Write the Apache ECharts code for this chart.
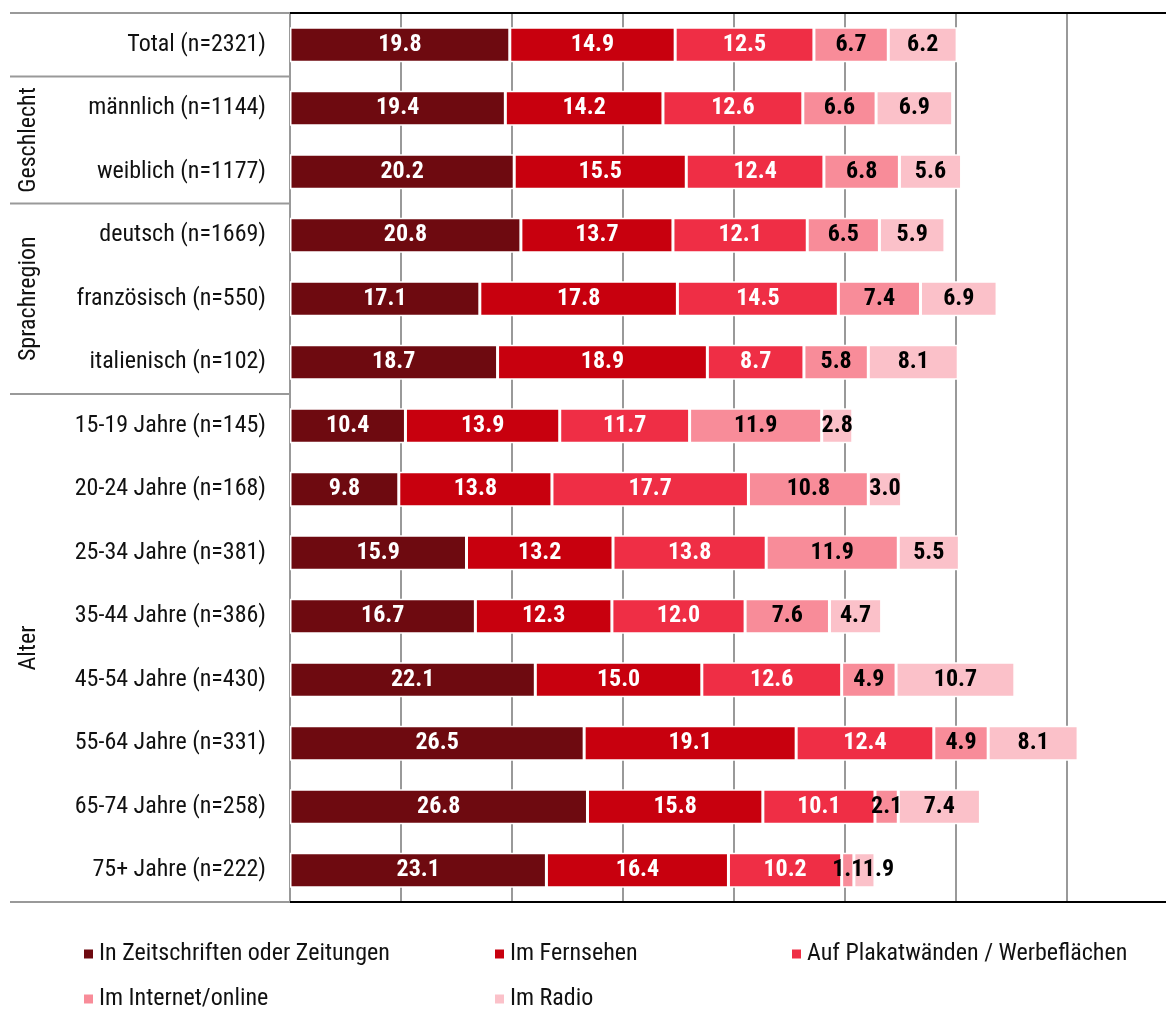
<!DOCTYPE html>
<html><head><meta charset="utf-8">
<script src="https://cdn.jsdelivr.net/npm/echarts@6/dist/echarts.min.js"></script>
<style>html,body{margin:0;padding:0;background:#fff}#c{width:1166px;height:1010px}</style>
</head><body><div id="c"></div>
<script>
const categories = ['Total (n=2321)','männlich (n=1144)','weiblich (n=1177)','deutsch (n=1669)','französisch (n=550)','italienisch (n=102)','15-19 Jahre (n=145)','20-24 Jahre (n=168)','25-34 Jahre (n=381)','35-44 Jahre (n=386)','45-54 Jahre (n=430)','55-64 Jahre (n=331)','65-74 Jahre (n=258)','75+ Jahre (n=222)'];
const seriesNames = ['In Zeitschriften oder Zeitungen','Im Fernsehen','Auf Plakatwänden / Werbeflächen','Im Internet/online','Im Radio'];
const zeitungen = [19.8,19.4,20.2,20.8,17.1,18.7,10.4,9.8,15.9,16.7,22.1,26.5,26.8,23.1];
const fernsehen = [14.9,14.2,15.5,13.7,17.8,18.9,13.9,13.8,13.2,12.3,15.0,19.1,15.8,16.4];
const plakat = [12.5,12.6,12.4,12.1,14.5,8.7,11.7,17.7,13.8,12.0,12.6,12.4,10.1,10.2];
const internet = [6.7,6.6,6.8,6.5,7.4,5.8,11.9,10.8,11.9,7.6,4.9,4.9,2.1,1.1];
const radio = [6.2,6.9,5.6,5.9,6.9,8.1,2.8,3.0,5.5,4.7,10.7,8.1,7.4,1.9];
const groups = [{name:'Geschlecht',from:1,to:2},{name:'Sprachregion',from:3,to:5},{name:'Alter',from:6,to:13}];
const separators = [1,3,6];

const colors = ['#6e0a10','#c8000e','#ef2e45','#f88c99','#fbc1c9'];
const labelColors = ['#fff','#fff','#fff','#000','#000'];
const FONT = '"Roboto Condensed",Roboto,"Liberation Sans",sans-serif';
const values = [zeitungen,fernsehen,plakat,internet,radio];
// label nudges for tiny overlapping segments (series index -> {category index: offset})
const labelNudge = {4:{13:[14,0]}};

const chart = echarts.init(document.getElementById('c'));
const legendPos = [[82,942],[493,942],[790,942],[82,987],[493,987]];
chart.setOption({
  animation:false,
  textStyle:{fontFamily:FONT},
  grid:{left:290,width:888,top:13,height:889,containLabel:false,outerBoundsMode:'none'},
  xAxis:{type:'value',min:0,max:80,interval:10,
    axisLabel:{show:false},axisTick:{show:false},
    axisLine:{show:false},
    splitLine:{show:true,lineStyle:{color:'#999',width:2}}},
  yAxis:{type:'category',data:categories,inverse:true,
    axisLine:{show:true,lineStyle:{color:'#999',width:2}},
    axisTick:{show:false},
    axisLabel:{margin:24,color:'#111',fontSize:24,fontFamily:FONT}},
  legend: seriesNames.map((n,i)=>({data:[n],left:legendPos[i][0],top:legendPos[i][1],padding:0,
    itemWidth:11,itemHeight:11,itemGap:8,icon:'rect',
    textStyle:{fontSize:24,color:'#111',fontFamily:FONT}})),
  series: seriesNames.map((n,i)=>({
    name:n,type:'bar',stack:'s',barWidth:35,
    data:values[i].map((v,j)=> (labelNudge[i] && labelNudge[i][j]) ? {value:v,label:{offset:labelNudge[i][j]}} : v),
    itemStyle:{color:colors[i],borderColor:'#fff',borderWidth:1.5},
    label:{show:true,position:'inside',color:labelColors[i],fontWeight:'bold',fontSize:24,fontFamily:FONT,
      formatter:p=>Number(p.value).toFixed(1)},
    emphasis:{disabled:true}
  }))
});

function drawDeco(){
  const y0 = chart.convertToPixel({yAxisIndex:0},0);
  const y1 = chart.convertToPixel({yAxisIndex:0},1);
  const band = y1-y0;
  const edge = i => y0 + (i-0.5)*band;
  const xL = chart.convertToPixel({xAxisIndex:0},0);
  const top = edge(0), bot = edge(categories.length);
  const g = [];
  g.push({type:'line',shape:{x1:10,y1:top,x2:xL,y2:top},style:{stroke:'#999',lineWidth:2}});
  g.push({type:'line',shape:{x1:10,y1:bot,x2:xL,y2:bot},style:{stroke:'#999',lineWidth:2}});
  g.push({type:'line',shape:{x1:xL,y1:top,x2:1166,y2:top},style:{stroke:'#000',lineWidth:2},z:10});
  g.push({type:'line',shape:{x1:xL,y1:bot,x2:1166,y2:bot},style:{stroke:'#000',lineWidth:2},z:10});
  separators.forEach(s=>{
    const y=edge(s);
    g.push({type:'line',shape:{x1:10,y1:y,x2:xL,y2:y},style:{stroke:'#999',lineWidth:2}});
  });
  groups.forEach(gr=>{
    const yc=(edge(gr.from)+edge(gr.to+1))/2;
    g.push({type:'text',x:29,y:yc,rotation:Math.PI/2,
      style:{text:gr.name,fontSize:24,fontFamily:FONT,fill:'#111',align:'center',verticalAlign:'middle'}});
  });
  chart.setOption({graphic:g});
}
drawDeco();
</script></body></html>
